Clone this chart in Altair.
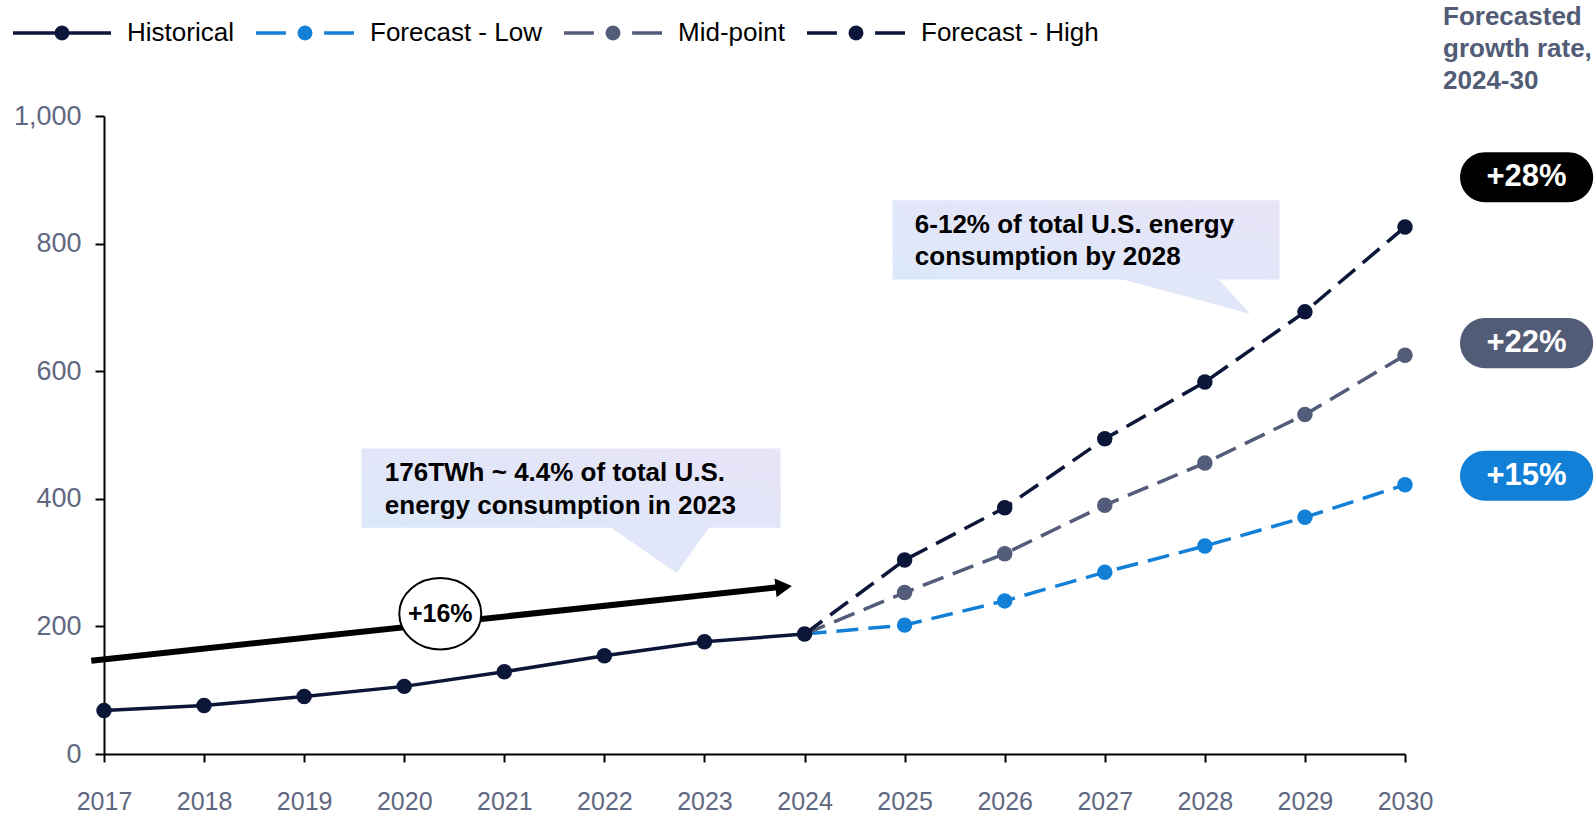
import altair as alt
import pandas as pd

# ---------------- data ----------------
hist_years = [2017, 2018, 2019, 2020, 2021, 2022, 2023, 2024]
hist_vals = [68, 76, 90, 106, 129, 154, 176, 188]

fc_years = [2024, 2025, 2026, 2027, 2028, 2029, 2030]
low_vals = [188, 202, 240, 285, 326, 371, 422]
mid_vals = [188, 253, 314, 390, 456, 532, 625]
high_vals = [188, 304, 386, 494, 583, 693, 826]

series_names = ["Historical", "Forecast - Low", "Mid-point", "Forecast - High"]
series_colors = ["#0b1638", "#1380d8", "#535c78", "#0b1638"]

x_ticks = list(range(2017, 2031))
y_ticks = [0, 200, 400, 600, 800, 1000]

growth_labels = ["+28%", "+22%", "+15%"]
growth_colors = ["#000000", "#525c76", "#1380d8"]
growth_y = [904, 644, 436]          # pill centres (data units)

header_lines = ["Forecasted", "growth rate,", "2024-30"]
header_y = [1155, 1105, 1055]

callout1_lines = ["176TWh ~ 4.4% of total U.S.", "energy consumption in 2023"]
callout1_y = [440, 388.5]
callout2_lines = ["6-12% of total U.S. energy", "consumption by 2028"]
callout2_y = [829, 779]

FONT = "Liberation Sans"
GRAY = "#5f6880"

# ---------------- frames ----------------
hist_df = pd.DataFrame({"year": hist_years, "value": hist_vals, "series": "Historical"})
fc_df = pd.concat([
    pd.DataFrame({"year": fc_years, "value": low_vals, "series": "Forecast - Low"}),
    pd.DataFrame({"year": fc_years, "value": mid_vals, "series": "Mid-point"}),
    pd.DataFrame({"year": fc_years, "value": high_vals, "series": "Forecast - High"}),
])
pts_df = pd.concat([hist_df, fc_df[fc_df["year"] > 2024]])

xs = alt.Scale(domain=[2017, 2030], nice=False, zero=False)
ys = alt.Scale(domain=[0, 1000], nice=False, zero=True)
cs = alt.Scale(domain=series_names, range=series_colors)

x_axis = alt.Axis(values=x_ticks, format="d", title=None, grid=False, tickSize=8, tickWidth=2,
                  tickColor="black", domainColor="black", domainWidth=2, labelFont=FONT,
                  labelFontSize=25, labelColor=GRAY, labelPadding=39, labelBaseline="middle",
                  labelFlush=False)
y_axis = alt.Axis(values=y_ticks, format=",.0f", title=None, grid=False, tickSize=9, tickWidth=2,
                  tickColor="black", domainColor="black", domainWidth=2, labelFont=FONT,
                  labelFontSize=27, labelColor=GRAY, labelPadding=14)


def X(f):
    return alt.X(f"{f}:Q", scale=xs, axis=x_axis)


def Y(f):
    return alt.Y(f"{f}:Q", scale=ys, axis=y_axis)


hist_path = "M-1,0H1M-0.115,0A0.115,0.115,0,1,1,0.115,0A0.115,0.115,0,1,1,-0.115,0Z"
dash_path = "M-1,0H-0.39M0.39,0H1M-0.115,0A0.115,0.115,0,1,1,0.115,0A0.115,0.115,0,1,1,-0.115,0Z"

legend = alt.Legend(
    title=None, orient="none", legendX=-93, legendY=-134, direction="horizontal",
    padding=0, columnPadding=15, labelLimit=0,
    symbolType={"expr": f"datum.value === 'Historical' ? '{hist_path}' : '{dash_path}'"},
    symbolSize=9604, symbolStrokeWidth=3.5,
    symbolStrokeColor={"expr": "scale('color', datum.value)"},
    symbolFillColor={"expr": "scale('color', datum.value)"},
    symbolOpacity=1, symbolDash=[1, 0],
    labelFont=FONT, labelFontSize=26, labelColor="black", labelOffset=14,
)


def C():
    return alt.Color("series:N", scale=cs, legend=legend)


# ---------------- callouts ----------------
grad = alt.LinearGradient(gradient="linear",
                          stops=[alt.GradientStop(color="#dbe8f8", offset=0),
                                 alt.GradientStop(color="#e9e4f8", offset=1)],
                          x1=0, x2=1, y1=1, y2=0)
box_df = pd.DataFrame({"x": [2019.573, 2024.880], "x2": [2023.761, 2028.746],
                       "y": [478.9, 867.9], "y2": [354.5, 743.7]})
boxes = alt.Chart(box_df).mark_rect(fill=grad).encode(
    x=X("x"), x2="x2:Q", y=Y("y"), y2="y2:Q")

tri_df = pd.DataFrame({
    "id": ["a", "a", "a", "b", "b", "b"],
    "x": [2022.054, 2022.723, 2023.053, 2027.152, 2028.132, 2028.451],
    "y": [356, 356, 356, 745, 745, 690.1],
    "y2": [356, 283.6, 356, 745, 703.8, 690.1],
})
tris = alt.Chart(tri_df).mark_area(color="#e1e6f8").encode(
    x=X("x"), y=Y("y"), y2="y2:Q", detail="id:N")

ctext_df = pd.DataFrame({
    "x": [2019.806] * 2 + [2025.102] * 2,
    "y": callout1_y + callout2_y,
    "t": callout1_lines + callout2_lines,
})
ctext = alt.Chart(ctext_df).mark_text(align="left", baseline="middle", font=FONT, fontSize=26,
                                      fontWeight="bold", color="black").encode(
    x=X("x"), y=Y("y"), text="t:N")

# ---------------- series ----------------
hist_line = alt.Chart(hist_df).mark_line(strokeWidth=3.5).encode(
    x=X("year"), y=Y("value"), color=C())

fc_line = alt.Chart(fc_df).mark_line(strokeWidth=3.5, strokeDash=[22, 10]).encode(
    x=X("year"), y=Y("value"), color=C())

points = alt.Chart(pts_df).mark_point(filled=True, size=240, opacity=1).encode(
    x=X("year"), y=Y("value"), color=C())

# ---------------- arrow & ellipse ----------------
arrow_df = pd.DataFrame({"x": [2016.873, 2023.75], "y": [146.3, 261.6]})
arrow = alt.Chart(arrow_df).mark_line(color="black", strokeWidth=6, strokeCap="butt").encode(
    x=X("x"), y=Y("y"))
head_df = pd.DataFrame({"x": [2023.792], "y": [261.8]})
head = alt.Chart(head_df).mark_point(shape="triangle-right", filled=True, color="black",
                                     size=361, angle=353.9, opacity=1).encode(x=X("x"), y=Y("y"))

ell_df = pd.DataFrame({"x": [2020.36], "y": [219.8], "t": ["+16%"]})
ellipse = alt.Chart(ell_df).mark_point(
    shape="M-1,0A1,0.871,0,1,0,1,0A1,0.871,0,1,0,-1,0Z", size=6724, filled=True,
    fill="white", stroke="black", strokeWidth=2, opacity=1).encode(x=X("x"), y=Y("y"))
ell_text = alt.Chart(ell_df).mark_text(font=FONT, fontSize=25, fontWeight="bold",
                                       color="black", baseline="middle").encode(
    x=X("x"), y=Y("y"), text="t:N")

# ---------------- right side ----------------
head_df2 = pd.DataFrame({"x": [2030.38] * 3, "y": header_y, "t": header_lines})
header = alt.Chart(head_df2).mark_text(align="left", baseline="middle", font=FONT, fontSize=26,
                                       fontWeight="bold", color="#525c76").encode(
    x=X("x"), y=Y("y"), text="t:N")

pill_df = pd.DataFrame({"t": growth_labels, "c": growth_colors, "yc": growth_y})
pill_df["y"] = pill_df["yc"] + 39.2
pill_df["y2"] = pill_df["yc"] - 39.2
pill_df["x"] = 2030.55
pill_df["x2"] = 2031.88
pill_df["xc"] = 2031.215
pills = alt.Chart(pill_df).mark_rect(cornerRadius=25).encode(
    x=X("x"), x2="x2:Q", y=Y("y"), y2="y2:Q", fill=alt.Fill("c:N", scale=None))
pill_text = alt.Chart(pill_df).mark_text(font=FONT, fontSize=31, fontWeight="bold",
                                         color="white", baseline="middle").encode(
    x=X("xc"), y=Y("yc"), text="t:N")

chart = alt.layer(
    boxes, tris, ctext, hist_line, fc_line, points, arrow, head, ellipse, ell_text,
    header, pills, pill_text
).properties(
    width=1301, height=638,
    padding={"left": 104, "top": 116, "right": 191, "bottom": 62},
    autosize=alt.AutoSizeParams(type="none"),
    background="white",
).configure_view(stroke=None)

chart.save("out.html", embed_options={"renderer": "svg", "actions": False})
